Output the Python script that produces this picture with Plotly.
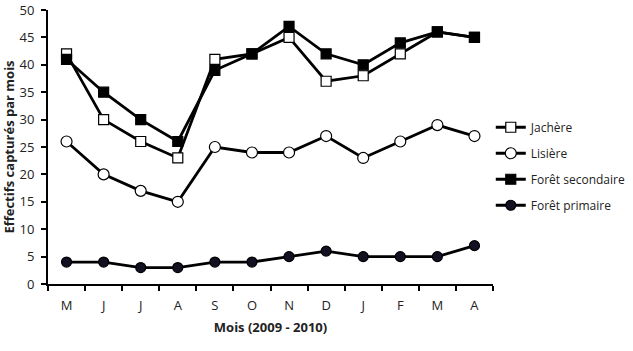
import plotly.graph_objects as go

months = ["M", "J", "J", "A", "S", "O", "N", "D", "J", "F", "M", "A"]
jachere = [42, 30, 26, 23, 41, 42, 45, 37, 38, 42, 46, 45]
lisiere = [26, 20, 17, 15, 25, 24, 24, 27, 23, 26, 29, 27]
foret_sec = [41, 35, 30, 26, 39, 42, 47, 42, 40, 44, 46, 45]
foret_prim = [4, 4, 3, 3, 4, 4, 5, 6, 5, 5, 5, 7]
y_ticks = [0, 5, 10, 15, 20, 25, 30, 35, 40, 45, 50]

xs = list(range(len(months)))
font_fam = "Open Sans, Liberation Sans, sans-serif"

fig = go.Figure()
series = [
    ("Jachère", jachere, "square", "white", 10),
    ("Lisière", lisiere, "circle", "white", 11),
    ("Forêt secondaire", foret_sec, "square", "black", 10),
    ("Forêt primaire", foret_prim, "circle", "#111122", 10),
]
for name, ys, sym, fill, sz in series:
    fig.add_trace(go.Scatter(
        x=xs, y=ys, name=name, mode="lines+markers",
        line=dict(color="black", width=2.8),
        marker=dict(symbol=sym, size=sz, color=fill, line=dict(color="black", width=1.2)),
        legendgroup=name,
    ))

fig.update_layout(
    width=633, height=351,
    margin=dict(l=48, r=140, t=10, b=67, autoexpand=False),
    paper_bgcolor="white", plot_bgcolor="white",
    font=dict(family=font_fam, color="#222222", size=13),
    showlegend=True,
    legend=dict(x=0.995, xanchor="left", y=0.625, yanchor="top",
                traceorder="grouped", tracegroupgap=7,
                font=dict(size=12, color="#222222"), itemwidth=30),
    xaxis=dict(
        range=[-0.5, 11.5], tickvals=xs, ticktext=months,
        ticks="", showgrid=False, zeroline=False,
        showline=True, linecolor="black", linewidth=2,
        ticklabelstandoff=8,
        tickfont=dict(size=13, family=font_fam, color="#222222"),
        title=dict(text="<b>Mois (2009 - 2010)</b>", font=dict(size=13), standoff=10),
        minor=dict(tickvals=[i - 0.5 for i in range(13)], ticks="outside",
                   ticklen=5, tickwidth=2, tickcolor="black"),
        fixedrange=True, automargin=False,
    ),
    yaxis=dict(
        range=[0, 50.001], tickvals=y_ticks, ticks="outside", ticklen=5, tickwidth=2,
        tickcolor="black", showgrid=False, zeroline=False,
        showline=True, linecolor="black", linewidth=2,
        ticklabelstandoff=4, ticklabeloverflow="allow",
        tickfont=dict(size=13, family=font_fam, color="#222222"),
        title=dict(text="<b>Effectifs capturés par mois</b>", font=dict(size=13), standoff=2),
        fixedrange=True, automargin=False,
    ),
)
fig.update_xaxes(tickprefix="<b>", ticksuffix="</b>")
fig.update_yaxes(tickprefix="<b>", ticksuffix="</b>")

fig.write_html("out.html")
